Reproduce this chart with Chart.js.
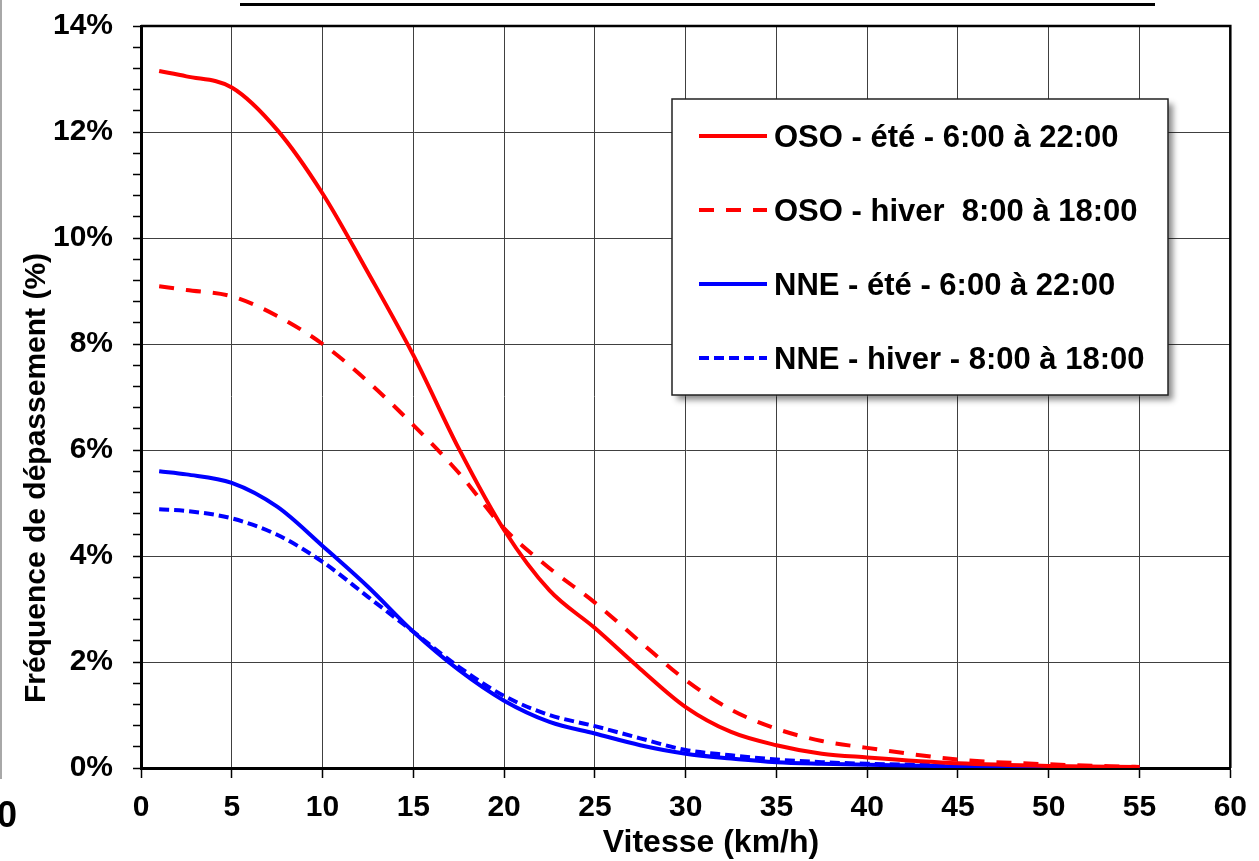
<!DOCTYPE html>
<html>
<head>
<meta charset="utf-8">
<script src="https://cdn.jsdelivr.net/npm/chart.js@4.4.1/dist/chart.umd.min.js"></script>
<style>
	html, body { margin: 0; padding: 0; background: #fff; }
	#wrap { position: relative; width: 1259px; height: 861px; }
</style>
</head>
<body>
<div id="wrap"><canvas id="frequenceChart"></canvas></div>
<script>
// vitesse du vent (km/h)
var speeds   = [1, 2.5, 5, 7.5, 10, 12.5, 15, 17.5, 20, 22.5, 25, 27.5, 30, 32.5, 35, 37.5, 40, 45, 50, 55];
// fréquence de dépassement (%)
var osoEte   = [13.15, 13.05, 12.84, 12.04, 10.84, 9.35, 7.79, 6.03, 4.49, 3.35, 2.64, 1.87, 1.15, 0.68, 0.43, 0.27, 0.20, 0.09, 0.04, 0.02];
var osoHiver = [9.09, 9.02, 8.90, 8.53, 8.00, 7.29, 6.47, 5.57, 4.52, 3.77, 3.12, 2.38, 1.66, 1.10, 0.74, 0.51, 0.38, 0.16, 0.07, 0.02];
var nneEte   = [5.60, 5.54, 5.38, 4.93, 4.19, 3.42, 2.57, 1.85, 1.27, 0.87, 0.65, 0.43, 0.27, 0.18, 0.11, 0.08, 0.06, 0.03, 0.01, 0.00];
var nneHiver = [4.88, 4.85, 4.71, 4.40, 3.89, 3.23, 2.57, 1.91, 1.36, 1.00, 0.79, 0.56, 0.34, 0.24, 0.16, 0.11, 0.08, 0.05, 0.02, 0.01];
var seriesNames = [
	'OSO - été - 6:00 à 22:00',
	'OSO - hiver  8:00 à 18:00',
	'NNE - été - 6:00 à 22:00',
	'NNE - hiver - 8:00 à 18:00'
];

var FONT = '"Liberation Sans", Arial, sans-serif';

function points(values) {
	return speeds.map(function (s, i) { return { x: s, y: values[i] }; });
}

function serie(label, values, color, dash) {
	return {
		label: label,
		data: points(values),
		borderColor: color,
		backgroundColor: color,
		borderWidth: 4,
		borderDash: dash,
		fill: false,
		pointRadius: 0,
		cubicInterpolationMode: 'monotone'
	};
}

// cadre, titres d'axes et légende
var decor = {
	id: 'decor',
	afterDraw: function (chart) {
		var ctx = chart.ctx;
		var a = chart.chartArea;
		ctx.save();

		// bord haut et droit du tracé
		ctx.strokeStyle = '#000';
		ctx.lineWidth = 2.5;
		ctx.beginPath();
		ctx.moveTo(a.left, a.top);
		ctx.lineTo(a.right, a.top);
		ctx.lineTo(a.right, a.bottom);
		ctx.stroke();

		// soulignement du titre
		ctx.lineWidth = 3;
		ctx.beginPath();
		ctx.moveTo(240, 4.5);
		ctx.lineTo(1155, 4.5);
		ctx.stroke();

		// trait gris à gauche
		ctx.strokeStyle = '#a8a8a8';
		ctx.lineWidth = 2;
		ctx.beginPath();
		ctx.moveTo(1, 0);
		ctx.lineTo(1, 779);
		ctx.stroke();

		ctx.fillStyle = '#000';
		ctx.font = 'bold 36px ' + FONT;
		ctx.textAlign = 'right';
		ctx.textBaseline = 'alphabetic';
		ctx.fillText('0', 17, 827);

		// titres d'axes
		ctx.textAlign = 'center';
		ctx.font = 'bold 32px ' + FONT;
		ctx.fillText('Vitesse (km/h)', 711, 852);
		ctx.font = 'bold 30px ' + FONT;
		ctx.save();
		ctx.translate(45, 478);
		ctx.rotate(-Math.PI / 2);
		ctx.fillText('Fréquence de dépassement (%)', 0, 0);
		ctx.restore();

		// légende
		var bx = 672, by = 99, bw = 496, bh = 296;
		ctx.save();
		ctx.shadowColor = 'rgba(0,0,0,0.45)';
		ctx.shadowBlur = 6;
		ctx.shadowOffsetX = 5;
		ctx.shadowOffsetY = 5;
		ctx.fillStyle = '#fff';
		ctx.fillRect(bx, by, bw, bh);
		ctx.restore();
		ctx.strokeStyle = '#222';
		ctx.lineWidth = 1.5;
		ctx.strokeRect(bx, by, bw, bh);

		ctx.font = 'bold 31px ' + FONT;
		chart.data.datasets.forEach(function (ds, i) {
			var cy = 136 + i * 74;
			ctx.strokeStyle = ds.borderColor;
			ctx.lineWidth = 4;
			ctx.setLineDash(ds.borderDash || []);
			ctx.beginPath();
			ctx.moveTo(699, cy);
			ctx.lineTo(767, cy);
			ctx.stroke();
			ctx.setLineDash([]);
			ctx.fillStyle = '#000';
			ctx.textAlign = 'left';
			ctx.fillText(ds.label, 774, cy + 11);
		});

		ctx.restore();
	}
};

var ctx = document.getElementById('frequenceChart');
var chart = new Chart(ctx, {
	type: 'line',
	data: {
		datasets: [
			serie(seriesNames[0], osoEte, '#ff0000', []),
			serie(seriesNames[1], osoHiver, '#ff0000', [15, 12]),
			serie(seriesNames[2], nneEte, '#0000ff', []),
			serie(seriesNames[3], nneHiver, '#0000ff', [10, 5])
		]
	},
	options: {
		responsive: true,
		maintainAspectRatio: false,
		animation: false,
		layout: {
			padding: { top: 26, right: 28, left: 0, bottom: 0 }
		},
		scales: {
			x: {
				type: 'linear',
				min: 0,
				max: 60,
				afterFit: function (scale) { scale.height = 93; },
				border: { color: '#000', width: 3 },
				grid: {
					color: '#404040',
					lineWidth: 1,
					tickLength: 10,
					tickColor: '#000',
					tickWidth: 1.5
				},
				ticks: {
					stepSize: 5,
					padding: 12,
					color: '#000',
					maxRotation: 0,
					font: { family: FONT, size: 30, weight: 'bold' }
				}
			},
			y: {
				min: 0,
				max: 14,
				afterFit: function (scale) {
					scale.width = 141;
					scale.paddingTop = 0;
					scale.paddingBottom = 0;
				},
				border: { color: '#000', width: 3 },
				grid: {
					color: function (c) {
						return Math.round(c.tick.value * 10) % 20 === 0 ? '#404040' : 'transparent';
					},
					lineWidth: 1,
					tickLength: 8,
					tickColor: '#000',
					tickWidth: 1.5
				},
				ticks: {
					stepSize: 0.4,
					autoSkip: false,
					padding: 20,
					color: '#000',
					font: { family: FONT, size: 30, weight: 'bold' },
					callback: function (v) {
						return Math.round(v * 10) % 20 === 0 ? Math.round(v) + '%' : '';
					}
				}
			}
		},
		plugins: {
			legend: { display: false },
			tooltip: { enabled: false }
		}
	},
	plugins: [decor]
});
</script>
</body>
</html>
